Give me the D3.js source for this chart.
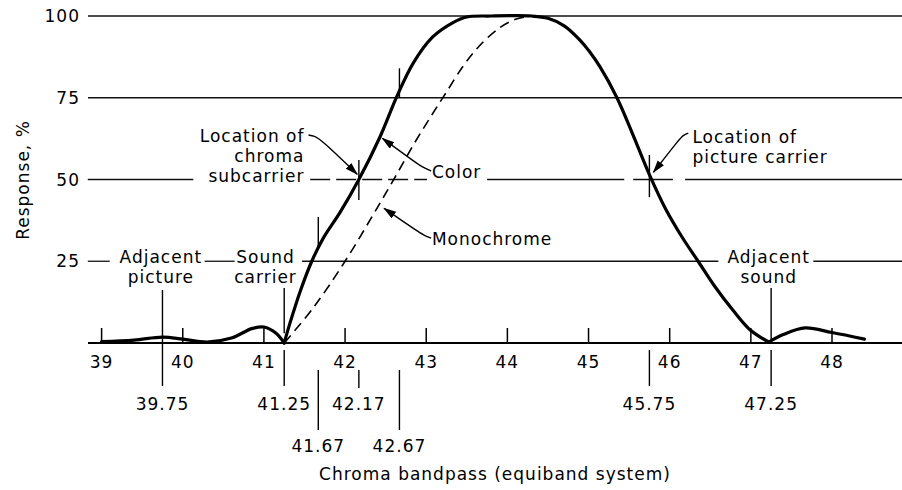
<!DOCTYPE html>
<html>
<meta charset="utf-8">
<script src="https://d3js.org/d3.v7.js"></script>
<style>
  body { margin: 0; background: #fff; }
  text { font-family: "DejaVu Sans", sans-serif; font-size: 17px; letter-spacing: 1px; fill: #000; }
</style>
<body>
<div id="my_dataviz"></div>
<script>
// response curves (x = frequency, y = response %)
var colorX = [39.0, 39.4, 39.75, 40.0, 40.3, 40.6, 40.85, 41.0, 41.15, 41.25, 41.32, 41.45, 41.59, 41.73, 41.94, 42.17, 42.43, 42.64, 42.84, 43.08, 43.33, 43.5, 43.8, 44.3, 44.5, 44.7, 44.9, 45.0, 45.14, 45.35, 45.55, 45.75, 45.95, 46.15, 46.35, 46.55, 46.78, 47.0, 47.22, 47.4, 47.67, 48.0, 48.4]
var colorY = [0.4, 0.9, 1.8, 1.2, 0.3, 1.5, 4.4, 4.9, 3.0, 0, 6, 16, 25, 32, 40, 50, 63, 75.5, 85.6, 93.6, 98, 99.7, 100, 100, 99.3, 97, 92.5, 89.5, 84.5, 75, 63.5, 51.5, 41, 32.5, 25, 17.5, 10, 3.8, 0.3, 2.6, 4.6, 3.2, 1.2]
var colorCusps = [41.25, 47.22]
var monoX = [41.25, 41.6, 42.0, 42.4, 42.6, 42.84, 43.05, 43.23, 43.45, 43.66, 43.91, 44.1, 44.3]
var monoY = [0, 10.5, 25, 41.5, 50, 60.5, 69, 76, 84.5, 91, 96.5, 99, 100]

// axis ticks and labels
var xTicks = [39, 40, 41, 42, 43, 44, 45, 46, 47, 48]
var yTicks = [25, 50, 75, 100]
var markX = [39.75, 41.25, 41.67, 42.17, 42.67, 45.75, 47.25]
var markLabel = ["39.75", "41.25", "41.67", "42.17", "42.67", "45.75", "47.25"]
var markRow = [0, 0, 1, 0, 1, 0, 0]

// gridline pieces (broken around the notes)
var grid50 = [[38.83, 40.13], [43.75, 45.44], [45.55, 46.04], [46.19, 49.9]]
var grid50dash = [[41.57, 43.01]]
var grid25 = [[38.83, 39.1], [40.27, 40.64], [41.47, 46.6], [47.77, 49.9]]

var width = 902, height = 490
var svg = d3.select("#my_dataviz").append("svg")
  .attr("width", width).attr("height", height)

var x = d3.scaleLinear().domain([39, 48]).range([101.6, 832])
var y = d3.scaleLinear().domain([0, 100]).range([343, 16])
var x0 = x.invert(88), x1 = x.invert(902)

svg.append("defs").append("marker")
  .attr("id", "arrow")
  .attr("markerUnits", "userSpaceOnUse")
  .attr("markerWidth", 14).attr("markerHeight", 10)
  .attr("refX", 12).attr("refY", 4)
  .attr("orient", "auto")
  .append("path").attr("d", "M0,0 L13,4 L0,8 Z").attr("fill", "#000")

// full gridlines
svg.selectAll(".gfull").data([75, 100]).enter().append("line")
  .attr("x1", x(x0)).attr("x2", x(x1))
  .attr("y1", d => y(d)).attr("y2", d => y(d))
  .attr("stroke", "#111").attr("stroke-width", 1.3)

function pieces(arr, val, dash) {
  svg.selectAll(null).data(arr).enter().append("line")
    .attr("x1", d => x(d[0])).attr("x2", d => x(d[1]))
    .attr("y1", y(val)).attr("y2", y(val))
    .attr("stroke", "#111").attr("stroke-width", 1.3)
    .attr("stroke-dasharray", dash || null)
}
pieces(grid50, 50)
pieces(grid50dash, 50, "20,6")
pieces(grid25, 25)

// y tick labels
svg.selectAll(".ylab").data(yTicks).enter().append("text")
  .attr("x", 80).attr("y", d => y(d) + 6)
  .attr("text-anchor", "end").text(d => d)

svg.append("text")
  .attr("transform", "translate(29,180) rotate(-90)")
  .attr("text-anchor", "middle").text("Response, %")

// x axis
svg.append("line")
  .attr("x1", x(x0)).attr("x2", x(x1))
  .attr("y1", y(0)).attr("y2", y(0))
  .attr("stroke", "#000").attr("stroke-width", 2.2)

svg.selectAll(".xt").data(xTicks).enter().append("line")
  .attr("x1", d => x(d)).attr("x2", d => x(d))
  .attr("y1", y(0)).attr("y2", y(0) - 15)
  .attr("stroke", "#000").attr("stroke-width", 1.5)

svg.selectAll(".xl").data(xTicks).enter().append("text")
  .attr("x", d => x(d)).attr("y", y(0) + 25)
  .attr("text-anchor", "middle").text(d => d)

// marked frequencies below the axis
svg.selectAll(".ml").data(markX).enter().append("line")
  .attr("x1", d => x(d)).attr("x2", d => x(d))
  .attr("y1", (d, i) => {
    if (markRow[i] || d === 42.17) return y(0) + 27
    if (d === 39.75) return y(0) - 6
    return y(0) + 7
  })
  .attr("y2", (d, i) => markRow[i] ? y(0) + 87 : (d === 42.17 ? y(0) + 45 : y(0) + 43))
  .attr("stroke", "#000").attr("stroke-width", 1.4)

svg.selectAll(".mt").data(markX).enter().append("text")
  .attr("x", d => x(d)).attr("y", (d, i) => markRow[i] ? y(0) + 109 : y(0) + 67)
  .attr("text-anchor", "middle").text((d, i) => markLabel[i])

// pointers from notes down to the curve
var pointers = [[39.75, 16.2, 1.8], [41.25, 16.8, 3], [47.25, 16.8, 1]]
svg.selectAll(".pt").data(pointers).enter().append("line")
  .attr("x1", d => x(d[0])).attr("x2", d => x(d[0]))
  .attr("y1", d => y(d[1])).attr("y2", d => y(d[2]))
  .attr("stroke", "#000").attr("stroke-width", 1.4)

// curves, split at the cusps so the spline does not overshoot
var line = d3.line().x(d => x(d[0])).y(d => y(d[1])).curve(d3.curveCatmullRom.alpha(0.5))
var colorPts = colorX.map((v, i) => [v, colorY[i]])
var bounds = [colorX[0]].concat(colorCusps, [colorX[colorX.length - 1]])
var colorParts = d3.pairs(bounds).map(b => colorPts.filter(p => p[0] >= b[0] && p[0] <= b[1]))

svg.append("path")
  .datum(monoX.map((v, i) => [v, monoY[i]]))
  .attr("d", line).attr("fill", "none")
  .attr("stroke", "#000").attr("stroke-width", 1.6)
  .attr("stroke-dasharray", "10,6")
svg.selectAll(".cc").data(colorParts).enter().append("path")
  .attr("d", line).attr("fill", "none")
  .attr("stroke", "#000").attr("stroke-width", 3.2)
  .attr("stroke-linejoin", "round").attr("stroke-linecap", "round")

// tick marks on the colour curve
var curveTicks = [[41.67, 29, 38.5], [42.17, 43.7, 56], [42.67, 75, 84], [45.75, 44.6, 57.5]]
svg.selectAll(".ct").data(curveTicks).enter().append("line")
  .attr("x1", d => x(d[0])).attr("x2", d => x(d[0]))
  .attr("y1", d => y(d[1])).attr("y2", d => y(d[2]))
  .attr("stroke", "#000").attr("stroke-width", 1.4)

// notes
function note(lines, px, py, anchor) {
  var t = svg.append("text").attr("text-anchor", anchor)
  lines.forEach((s, i) => {
    t.append("tspan").attr("x", x(px)).attr("y", y(py) + i * 20).text(s)
  })
}
note(["Location of", "chroma", "subcarrier"], 41.5, 61.6, "end")
note(["Color"], 43.07, 50.6, "start")
note(["Monochrome"], 43.07, 30, "start")
note(["Location of", "picture carrier"], 46.28, 61.3, "start")
note(["Adjacent", "picture"], 39.73, 24.5, "middle")
note(["Sound", "carrier"], 41.02, 24.5, "middle")
note(["Adjacent", "sound"], 47.22, 24.5, "middle")

// arrows
var arrowLine = d3.line().x(d => x(d[0])).y(d => y(d[1])).curve(d3.curveBasis)
var arrows = [
  [[41.55, 63.6], [41.62, 63.3], [41.7, 62.3], [42.15, 51.6]],
  [[43.06, 52.6], [42.97, 53.6], [42.9, 54.6], [42.46, 62.6]],
  [[43.06, 32.1], [42.97, 33], [42.9, 34], [42.48, 41.2]],
  [[46.23, 64.2], [46.17, 63.6], [46.12, 62.4], [45.8, 52.2]]
]
svg.selectAll(".ar").data(arrows).enter().append("path")
  .attr("d", arrowLine).attr("fill", "none")
  .attr("stroke", "#000").attr("stroke-width", 1.4)
  .attr("marker-end", "url(#arrow)")

svg.append("text")
  .attr("x", 495).attr("y", 480)
  .attr("text-anchor", "middle").text("Chroma bandpass (equiband system)")
</script>
</body>
</html>
